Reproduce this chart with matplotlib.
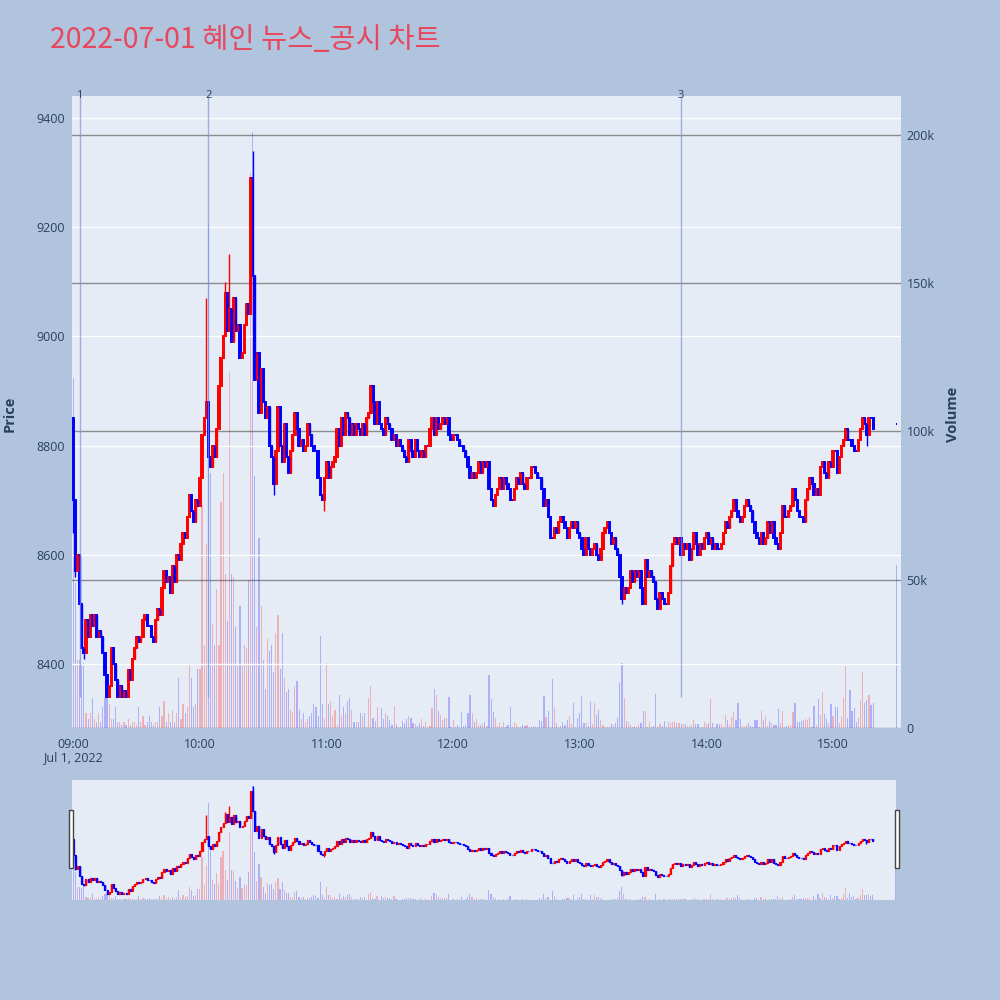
import matplotlib.pyplot as plt
from matplotlib.patches import Rectangle
import matplotlib.transforms as mtransforms
import numpy as np

plt.rcParams['font.family'] = ['Open Sans', 'DejaVu Sans']

# ---- data: 1-minute candles from 09:00 (minute 0) to 15:19 ----
first_open = 8850
closes = [
    8700, 8570, 8600, 8510, 8430, 8420, 8480, 8450, 8490, 8470,
    8490, 8450, 8460, 8450, 8420, 8380, 8340, 8360, 8430, 8400,
    8370, 8340, 8360, 8340, 8350, 8340, 8390, 8370, 8410, 8430,
    8450, 8440, 8450, 8480, 8490, 8470, 8470, 8450, 8440, 8480,
    8500, 8490, 8540, 8570, 8550, 8560, 8530, 8580, 8550, 8600,
    8590, 8620, 8640, 8630, 8670, 8710, 8680, 8660, 8700, 8690,
    8740, 8820, 8850, 8880, 8780, 8760, 8800, 8780, 8830, 8910,
    8960, 9000, 9080, 9010, 9050, 8990, 9070, 9010, 9020, 8960,
    8970, 9020, 9060, 9040, 9290, 9110, 8920, 8970, 8860, 8940,
    8880, 8850, 8870, 8800, 8780, 8730, 8790, 8870, 8800, 8770,
    8840, 8780, 8750, 8790, 8820, 8860, 8830, 8800, 8810, 8790,
    8800, 8840, 8820, 8800, 8790, 8790, 8740, 8710, 8700, 8740,
    8770, 8740, 8760, 8770, 8780, 8830, 8800, 8850, 8820, 8860,
    8850, 8820, 8840, 8820, 8840, 8830, 8820, 8840, 8820, 8850,
    8860, 8910, 8880, 8840, 8880, 8840, 8830, 8820, 8850, 8840,
    8830, 8810, 8820, 8800, 8810, 8800, 8790, 8780, 8770, 8810,
    8790, 8780, 8810, 8790, 8780, 8790, 8780, 8800, 8800, 8830,
    8850, 8820, 8850, 8830, 8840, 8850, 8840, 8850, 8820, 8810,
    8820, 8820, 8810, 8800, 8800, 8790, 8780, 8760, 8740, 8750,
    8740, 8750, 8770, 8750, 8770, 8760, 8770, 8720, 8700, 8690,
    8710, 8720, 8740, 8720, 8740, 8730, 8720, 8700, 8700, 8720,
    8740, 8730, 8750, 8730, 8720, 8740, 8740, 8760, 8760, 8750,
    8740, 8740, 8720, 8690, 8700, 8670, 8630, 8630, 8650, 8640,
    8660, 8670, 8660, 8650, 8630, 8650, 8660, 8650, 8660, 8640,
    8630, 8610, 8600, 8630, 8610, 8600, 8610, 8620, 8600, 8590,
    8610, 8640, 8650, 8660, 8640, 8620, 8630, 8610, 8600, 8560,
    8520, 8540, 8530, 8540, 8570, 8550, 8570, 8560, 8570, 8540,
    8510, 8590, 8560, 8570, 8560, 8550, 8520, 8500, 8530, 8520,
    8510, 8510, 8530, 8580, 8620, 8630, 8620, 8630, 8600, 8620,
    8610, 8620, 8590, 8610, 8640, 8620, 8600, 8620, 8610, 8630,
    8640, 8620, 8630, 8610, 8620, 8610, 8610, 8620, 8640, 8660,
    8650, 8670, 8680, 8700, 8680, 8670, 8660, 8670, 8690, 8700,
    8690, 8680, 8660, 8640, 8630, 8620, 8640, 8620, 8630, 8660,
    8640, 8660, 8630, 8620, 8610, 8640, 8690, 8670, 8670, 8680,
    8690, 8720, 8700, 8680, 8670, 8670, 8660, 8700, 8720, 8740,
    8730, 8710, 8720, 8710, 8760, 8770, 8750, 8740, 8770, 8760,
    8790, 8790, 8750, 8780, 8800, 8810, 8830, 8810, 8810, 8800,
    8790, 8790, 8810, 8830, 8850, 8840, 8820, 8850, 8850, 8830,
]
# wicks that reach beyond the candle body (minute: price)
wick_high = {0: 8850, 63: 9070, 72: 9100, 74: 9150, 85: 9340, 141: 8910}
wick_low = {0: 8640, 1: 8560, 5: 8410, 95: 8710, 119: 8680, 260: 8510,
            277: 8500, 376: 8800}

volume_k = [
    118, 49, 23, 23, 21, 22, 5, 3, 5, 10,
    3, 2, 5, 2, 7, 10, 11, 8, 3, 3,
    7, 2, 2, 1, 2, 1, 3, 1, 2, 2,
    1, 7, 2, 4, 1, 2, 4, 2, 1, 2,
    2, 7, 4, 9, 2, 5, 2, 6, 2, 5,
    17, 3, 8, 5, 7, 22, 17, 7, 8, 20,
    20, 75, 28, 62, 170, 86, 35, 28, 47, 28,
    76, 86, 52, 36, 120, 52, 51, 34, 21, 41,
    21, 28, 27, 50, 187, 201, 85, 34, 64, 41,
    23, 13, 30, 26, 28, 19, 32, 38, 20, 32,
    17, 12, 13, 6, 5.5, 14, 16, 6, 3, 5,
    2, 3, 4, 5, 8, 7, 4, 31, 8, 3,
    22, 8, 9, 4, 6, 1, 11, 4, 7, 5,
    9, 10, 6, 2, 2, 2, 5, 4, 5, 0.3,
    10, 14, 3.5, 2.5, 7, 0.5, 6.6, 3, 5, 4,
    2.7, 1, 7.4, 1.3, 0.2, 0.2, 2.4, 1.8, 3.1, 3.9,
    3.3, 1.7, 1.2, 0.7, 1.7, 3.1, 0.6, 2.1, 0.2, 0.7,
    6.9, 13, 11, 5.7, 4.3, 2.8, 3.3, 3.4, 10.3, 0.2,
    2.6, 0.2, 0.9, 0.2, 5.5, 0.8, 1, 5.2, 11.2, 5,
    1.9, 3.1, 1, 1.1, 1.2, 2.1, 0.8, 17.8, 9.9, 5.5,
    3.4, 0.8, 1.8, 0.2, 2, 0.2, 1.1, 7.1, 0.2, 2,
    1.5, 0.2, 0.2, 1.1, 0.8, 1.1, 0.2, 0.2, 0.6, 0.2,
    0.4, 2.8, 2.4, 10.8, 3.7, 5.8, 0.2, 16.6, 6.9, 1.8,
    0.5, 0.6, 1.9, 0.9, 2.7, 4, 1.5, 8.3, 0.2, 3.4,
    5.2, 10.8, 1.6, 1.6, 0.6, 8.9, 1.3, 8.4, 4.4, 6.1,
    2.7, 1, 0.5, 0.4, 0.2, 1.5, 1, 1.7, 3.3, 15.3,
    22, 10, 2.4, 2, 1, 0.4, 0.7, 0.2, 0.9, 1.7,
    5.8, 5.6, 0.4, 2, 0.2, 0.6, 11.3, 0.2, 1.3, 0.6,
    2.4, 0.2, 2, 1.6, 1.9, 2.4, 1.6, 1.6, 1.3, 1.3,
    1.2, 0.6, 0.6, 0.9, 2.8, 1.5, 1.3, 0.2, 0.4, 2,
    1.2, 1.7, 9.7, 1.7, 0.2, 1.2, 1.2, 1.2, 0.2, 4.3,
    2.7, 1, 3.7, 5.4, 2.7, 8.3, 2.9, 0.6, 0.2, 1.1,
    1.7, 0.6, 0.2, 2.8, 2.8, 0.2, 5.7, 2.6, 4.2, 0.6,
    2.4, 1.6, 1, 1, 6.3, 1.7, 5.7, 0.2, 0.6, 0.9,
    0.9, 5.3, 8.3, 2.1, 2.1, 2.2, 2.7, 2.9, 2.8, 3.8,
    0.2, 7.5, 1, 9.9, 4.3, 12, 4.7, 2.9, 1.6, 8.2,
    4.2, 7.1, 7.1, 1.8, 3.8, 10, 20.9, 3.3, 12.8, 5.6,
    6.9, 1.9, 3.5, 9.3, 18.9, 8.3, 9.4, 11, 7.8, 8.5,
]
assert len(closes) == 380 and len(volume_k) == 380

# closing auction at 15:30
auction_minute = 390
auction_price = 8840
auction_volume_k = 55

# news / disclosure markers
news_minutes = [3, 64, 288]
news_labels = ['1', '2', '3']

hour_labels = ['09:00', '10:00', '11:00', '12:00', '13:00', '14:00', '15:00']
price_ticks = [8400, 8600, 8800, 9000, 9200, 9400]
volume_ticks = [0, 50000, 100000, 150000, 200000]
volume_tick_labels = ['0', '50k', '100k', '150k', '200k']

# ---- assemble OHLC ----
t = np.append(np.arange(len(closes)), auction_minute)
c = np.array(closes + [auction_price], dtype=float)
o = np.array([first_open] + closes[:-1] + [auction_price], dtype=float)
h = np.maximum(o, c)
l = np.minimum(o, c)
for k, v in wick_high.items():
    h[k] = max(h[k], v)
for k, v in wick_low.items():
    l[k] = min(l[k], v)
vol = np.array(volume_k + [auction_volume_k]) * 1000
up = c > o
cols = np.where(up, '#FF0000', '#0000FF')

BG = '#B0C4DE'
PLOT_BG = '#E5ECF6'
TXT = '#2a3f5f'
x_range = (-0.62, 392.2)
p_range = (8283, 9440)
v_range = (0, 213000)


def draw(ax_p, ax_v, body_w, lw, bar_w):
    ax_v.bar(t, vol, width=bar_w, color=cols, alpha=0.25, linewidth=0)
    ax_p.vlines(t, l, h, colors=cols, linewidth=1)
    ax_p.bar(t, c - o, bottom=o, width=body_w, color=cols,
             edgecolor=cols, linewidth=lw)


fig = plt.figure(figsize=(10, 10), dpi=100, facecolor=BG)

# main panel: volume axis underneath, price axis on top
ax_v = fig.add_axes([0.072, 0.272, 0.829, 0.632])
ax_v.set_facecolor(PLOT_BG)
ax_p = ax_v.twinx()
ax_p.set_facecolor('none')
draw(ax_p, ax_v, 0.6, 1.4, 0.55)

ax_v.set_xlim(*x_range)
ax_v.set_ylim(*v_range)
ax_p.set_ylim(*p_range)

ax_v.yaxis.tick_right()
ax_v.set_yticks(volume_ticks)
ax_v.set_yticklabels(volume_tick_labels)
ax_v.grid(axis='y', color='#8c8c8c', linewidth=1)
ax_v.set_axisbelow(True)
ax_p.yaxis.tick_left()
ax_p.set_yticks(price_ticks)
ax_p.grid(axis='y', color='white', linewidth=1)
ax_p.set_axisbelow(True)

ax_v.set_xticks(np.arange(0, 361, 60))
ax_v.set_xticklabels(hour_labels)
for a in (ax_v, ax_p):
    for s in a.spines.values():
        s.set_visible(False)
    a.tick_params(length=0, labelsize=9, labelcolor=TXT)
ax_v.tick_params(axis='x', pad=7)
ax_v.tick_params(axis='y', pad=4)
ax_p.tick_params(axis='y', pad=5)
ax_v.text(0, -0.047, 'Jul 1, 2022', transform=mtransforms.blended_transform_factory(
    ax_v.transData, ax_v.transAxes), ha='center', va='center', fontsize=9, color=TXT)

# news lines
day_low = l.min()
for nt, lab in zip(news_minutes, news_labels):
    ax_p.vlines(nt, day_low, p_range[1], color='#7f8fe6', alpha=0.7, linewidth=1)
    ax_p.text(nt, 1.0, lab, transform=mtransforms.blended_transform_factory(
        ax_p.transData, ax_p.transAxes), ha='center', va='center',
        fontsize=8, color=TXT, clip_on=False)

# range slider
sl_v = fig.add_axes([0.072, 0.100, 0.824, 0.120])
sl_v.set_facecolor(PLOT_BG)
sl_p = sl_v.twinx()
draw(sl_p, sl_v, 0.5, 0.9, 0.55)
sl_v.set_xlim(x_range[0], auction_minute)
sl_v.set_ylim(0, 211000)
sl_p.set_ylim(8285, 9395)
for a in (sl_v, sl_p):
    a.set_xticks([])
    a.set_yticks([])
    for s in a.spines.values():
        s.set_visible(False)
for hx in (0.069, 0.895):
    fig.add_artist(Rectangle((hx, 0.132), 0.004, 0.058, transform=fig.transFigure,
                             facecolor='white', edgecolor='#444444', linewidth=1))

# titles
fig.text(0.05, 0.96, '2022-07-01 혜인 뉴스_공시 차트', fontsize=20.5, color='#E8475E',
         family=['Noto Sans CJK KR', 'DejaVu Sans'], ha='left', va='center')
fig.text(0.010, 0.586, 'Price', rotation=90, fontsize=10.5, fontweight='bold',
         color=TXT, ha='center', va='center')
fig.text(0.953, 0.586, 'Volume', rotation=90, fontsize=10.5, fontweight='bold',
         color=TXT, ha='center', va='center')

fig.savefig('out.png', dpi=100, facecolor=BG)
